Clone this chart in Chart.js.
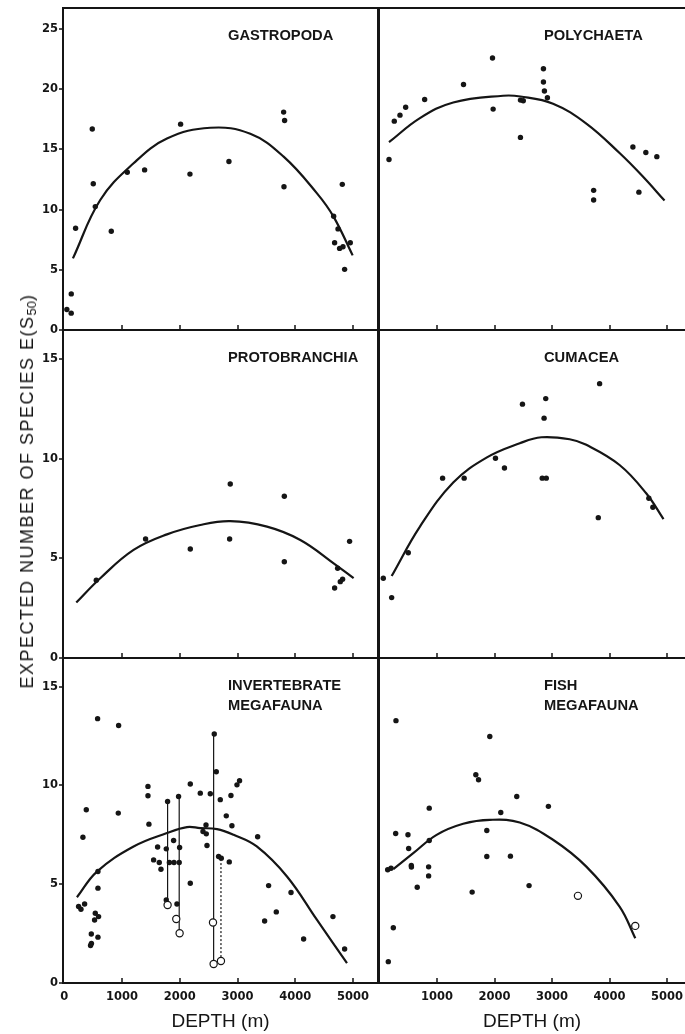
<!DOCTYPE html>
<html>
<head>
<meta charset="utf-8">
<script src="https://cdn.jsdelivr.net/npm/chart.js@4.4.1/dist/chart.umd.min.js"></script>
<style>
  html, body { margin: 0; padding: 0; background: #fff; }
  #fig { position: relative; width: 685px; height: 1034px; overflow: hidden; background: #fff; }
  #fig canvas { position: absolute; }
  .ylab {
    position: absolute; left: 28px; top: 491px;
    transform: translate(-50%, -50%) rotate(-90deg);
    white-space: nowrap; color: #151515;
    font: 18px 'Liberation Sans', Arial, sans-serif; letter-spacing: 1.5px;
  }
  .ylab sub { font-size: 13px; vertical-align: -3px; letter-spacing: 0; }
</style>
</head>
<body>
<div id="fig">
  <canvas id="gastropoda"></canvas>
  <canvas id="polychaeta"></canvas>
  <canvas id="protobranchia"></canvas>
  <canvas id="cumacea"></canvas>
  <canvas id="invertebrate"></canvas>
  <canvas id="fish"></canvas>
  <div class="ylab">EXPECTED NUMBER OF SPECIES E(S<sub>50</sub>)</div>
</div>
<script>
// tick labels
const depthTicks = [0, 1000, 2000, 3000, 4000, 5000];
const depthTicksRight = [1000, 2000, 3000, 4000, 5000];
const tickMarks = [1000, 2000, 3000, 4000, 5000];
const speciesTicksTop = [0, 5, 10, 15, 20, 25];
const speciesTicks = [0, 5, 10, 15];

// Gastropoda
const gastroDepth = [45, 120, 121, 196, 485, 502, 537, 814, 1091, 1391, 2014, 2176, 2851, 3798, 3815, 3804, 4664, 4740, 4814, 4681, 4767, 4826, 4952, 4854];
const gastroE = [1.7, 1.4, 3.0, 8.45, 16.7, 12.15, 10.25, 8.2, 13.1, 13.3, 17.1, 12.95, 14.0, 18.1, 17.4, 11.9, 9.45, 8.4, 12.1, 7.25, 6.78, 6.92, 7.25, 5.04];
const gastroFitDepth = [150, 623, 1200, 1778, 2528, 3221, 3798, 4376, 4664, 4993];
const gastroFitE = [5.95, 10.8, 13.85, 15.9, 16.8, 16.3, 14.4, 11.35, 9.4, 6.2];

// Polychaeta
const polyDepth = [165, 257, 356, 455, 785, 1461, 1965, 1976, 2451, 2451, 2500, 2851, 2851, 2868, 2920, 3724, 3724, 4407, 4511, 4632, 4823];
const polyE = [14.17, 17.35, 17.85, 18.5, 19.15, 20.4, 22.6, 18.35, 16.0, 19.1, 19.05, 21.7, 20.6, 19.85, 19.3, 11.6, 10.8, 15.2, 11.45, 14.75, 14.4];
const polyFitDepth = [165, 703, 1282, 2149, 2450, 3018, 3597, 4175, 4580, 4957];
const polyFitE = [15.6, 17.6, 18.9, 19.46, 19.4, 18.8, 17.15, 14.7, 12.75, 10.75];

// Protobranchia
const protoDepth = [554, 1408, 2182, 2874, 2863, 3810, 3810, 4681, 4733, 4779, 4819, 4940];
const protoE = [3.9, 5.97, 5.47, 8.73, 5.97, 8.11, 4.83, 3.51, 4.5, 3.83, 3.95, 5.85];
const protoFitDepth = [208, 623, 1200, 1778, 2355, 2874, 3510, 4087, 4664, 5010];
const protoFitE = [2.78, 4.0, 5.42, 6.2, 6.67, 6.86, 6.59, 5.92, 4.75, 4.0];

// Cumacea
const cumaDepth = [66, 211, 500, 1097, 1472, 2017, 2173, 2486, 2891, 2862, 2830, 2900, 3828, 3805, 4684, 4754];
const cumaE = [4.0, 3.03, 5.28, 9.02, 9.02, 10.02, 9.53, 12.73, 13.01, 12.03, 9.02, 9.02, 13.76, 7.04, 8.01, 7.56];
const cumaFitDepth = [211, 703, 1282, 1861, 2440, 2816, 3307, 3597, 4175, 4638, 4939];
const cumaFitE = [4.11, 6.59, 8.8, 10.05, 10.77, 11.07, 10.97, 10.69, 9.68, 8.26, 6.97];

// Invertebrate megafauna
const inveDepth = [577, 941, 381, 323, 935, 1449, 1449, 1466, 583, 583, 248, 289, 352, 537, 594, 525, 468, 583, 455, 470,
  1616, 1547, 1645, 1674, 1893, 1766, 1789, 1766, 1979, 1820, 1900, 1990, 1997, 1951, 2182, 2182, 2355, 2402, 2459, 2454,
  2471, 2528, 2597, 2632, 2701, 2886, 2990, 3035, 2805, 2903, 2672, 2719, 2857, 3348, 3538, 3926, 3671, 3469, 4144, 4652, 4854];
const inveE = [13.38, 13.03, 8.77, 7.38, 8.6, 9.95, 9.48, 8.04, 5.64, 4.8, 3.87, 3.73, 4.0, 3.53, 3.36, 3.19, 2.48, 2.32, 1.9, 2.0,
  6.88, 6.23, 6.1, 5.76, 7.21, 6.79, 9.19, 4.2, 9.44, 6.1, 6.1, 6.1, 6.86, 4.0, 10.07, 5.05, 9.61, 7.67, 7.55, 8.0,
  6.96, 9.58, 12.6, 10.69, 9.28, 9.49, 10.03, 10.24, 8.46, 7.96, 6.4, 6.32, 6.13, 7.4, 4.93, 4.58, 3.6, 3.14, 2.23, 3.36, 1.72];
const inveOpenDepth = [1789, 1939, 1997, 2575, 2586, 2713];
const inveOpenE = [3.95, 3.24, 2.52, 3.06, 0.96, 1.11];
const inveBarDepth = [1789, 1990, 2586, 2713];
const inveBarLow = [3.95, 2.52, 0.96, 1.11];
const inveBarHigh = [9.19, 9.44, 12.6, 6.32];
const inveBarDashed = [false, false, false, true];
const inveFitDepth = [219, 566, 1200, 1778, 2125, 2355, 2644, 2932, 3333, 3856, 4376, 4895];
const inveFitE = [4.34, 5.64, 6.91, 7.59, 7.89, 7.84, 7.79, 7.5, 6.91, 5.39, 3.19, 1.0];

// Fish megafauna
const fishDepth = [286, 281, 495, 507, 553, 555, 142, 200, 240, 153, 656, 865, 865, 854, 854, 1611, 1675, 1722, 1918, 1866, 1866, 2109, 2277, 2387, 2601, 2937];
const fishE = [13.28, 7.57, 7.5, 6.81, 5.95, 5.87, 5.73, 5.81, 2.8, 1.08, 4.85, 8.85, 7.21, 5.88, 5.42, 4.6, 10.54, 10.29, 12.48, 7.72, 6.4, 8.63, 6.42, 9.44, 4.93, 8.94];
const fishOpenDepth = [3451, 4448];
const fishOpenE = [4.41, 2.89];
const fishFitDepth = [240, 587, 993, 1455, 1918, 2439, 3017, 3597, 4175, 4448];
const fishFitE = [5.76, 6.57, 7.5, 8.06, 8.26, 8.12, 7.25, 5.89, 3.87, 2.27];

const INK = '#151515';
const FONT = "'Liberation Sans', Arial, sans-serif";
const TICK_FONT = "'DejaVu Sans', sans-serif";
Chart.defaults.font.family = FONT;
Chart.defaults.color = INK;
Chart.defaults.animation = false;

// canvas placement for each row / column of the grid
const rows = [
  { top: 0, height: 342, padTop: 8, padBottom: 12 },
  { top: 320, height: 350, padTop: 10, padBottom: 12 },
  { top: 648, height: 386, padTop: 10, padBottom: 0 }
];
const cols = [
  { left: 0, width: 382, xMin: -22, xMax: 5432, labels: depthTicks },
  { left: 375, width: 310, xMin: -9, xMax: 5313, labels: depthTicksRight }
];

const pairs = (xs, ys) => xs.map((x, i) => ({ x, y: ys[i] }));

// box around each panel, inward depth ticks, outward species ticks, panel name
const framePlugin = {
  id: 'frame',
  afterDatasetsDraw(chart, args, o) {
    const { ctx, chartArea: a, scales: { x, y } } = chart;
    ctx.save();
    ctx.strokeStyle = INK;
    ctx.lineWidth = 2;
    ctx.beginPath();
    ctx.moveTo(a.left, a.top); ctx.lineTo(a.right, a.top);
    ctx.moveTo(a.left, a.top - 1); ctx.lineTo(a.left, a.bottom + 1);
    ctx.moveTo(a.left, a.bottom); ctx.lineTo(a.right, a.bottom);
    if (o.rightEdge) { ctx.moveTo(a.right, a.top - 1); ctx.lineTo(a.right, a.bottom + 1); }
    ctx.stroke();
    ctx.lineWidth = 1.5;
    ctx.beginPath();
    tickMarks.forEach(v => {
      const px = Math.round(x.getPixelForValue(v));
      ctx.moveTo(px, a.bottom); ctx.lineTo(px, a.bottom - 5);
    });
    (o.yTicks || []).forEach(v => {
      const py = Math.round(y.getPixelForValue(v));
      ctx.moveTo(a.left, py); ctx.lineTo(a.left - 4, py);
    });
    ctx.stroke();
    ctx.fillStyle = INK;
    ctx.font = 'bold 14.7px ' + FONT;
    ctx.textBaseline = 'middle';
    o.title.forEach((t, i) => ctx.fillText(t, a.left + 165, a.top + 28 + i * 20));
    ctx.restore();
  }
};

function panel(id, row, col, p) {
  const r = rows[row], c = cols[col];
  const showX = row === 2, showY = col === 0;
  const canvas = document.getElementById(id);
  canvas.width = c.width;
  canvas.height = r.height;
  canvas.style.left = c.left + 'px';
  canvas.style.top = r.top + 'px';

  const datasets = [];
  if (p.openX) {
    datasets.push({ data: pairs(p.openX, p.openY), order: 0, pointRadius: 3.6, pointBorderWidth: 1.2,
      pointBorderColor: INK, pointBackgroundColor: '#fff' });
  }
  datasets.push({ data: pairs(p.x, p.y), order: 1, pointRadius: 2.7, pointBorderWidth: 0, pointBackgroundColor: INK });
  (p.barX || []).forEach((bx, i) => {
    datasets.push({ data: [{ x: bx, y: p.barLow[i] }, { x: bx, y: p.barHigh[i] }], order: 2, showLine: true,
      borderColor: INK, borderWidth: 1.2, borderDash: p.barDashed[i] ? [2, 2] : [], pointRadius: 0 });
  });
  datasets.push({ data: pairs(p.fitX, p.fitY), order: 3, showLine: true, tension: 0.4,
    borderColor: INK, borderWidth: 2.2, pointRadius: 0 });

  return new Chart(canvas, {
    type: 'scatter',
    data: { datasets },
    options: {
      responsive: false,
      devicePixelRatio: 1,
      events: [],
      layout: {
        autoPadding: false,
        padding: { left: col === 1 ? 4 : 0, right: col === 0 ? 4 : 0, top: r.padTop, bottom: r.padBottom }
      },
      plugins: {
        legend: { display: false },
        tooltip: { enabled: false },
        frame: { title: p.title, rightEdge: col === 0, yTicks: showY ? p.yTicks : null }
      },
      scales: {
        x: {
          type: 'linear', min: c.xMin, max: c.xMax, display: showX,
          afterFit: s => {
            s.height = showX ? 51 : 0;
            s.paddingLeft = 0; s.paddingRight = 0;
          },
          afterBuildTicks: s => { s.ticks = c.labels.map(v => ({ value: v })); },
          grid: { display: false, drawTicks: false },
          border: { display: false },
          ticks: { padding: 7, autoSkip: false, maxRotation: 0, font: { family: TICK_FONT, size: 11.5, weight: 'bold' }, callback: v => String(v) },
          title: { display: true, text: 'DEPTH (m)', font: { size: 19 }, padding: { top: 0, bottom: 1 } }
        },
        y: {
          type: 'linear', min: 0, max: p.yMax, display: showY,
          afterFit: s => {
            s.width = showY ? 63 : 0;
            s.paddingTop = 0; s.paddingBottom = 0;
          },
          afterBuildTicks: s => { s.ticks = p.yTicks.map(v => ({ value: v })); },
          grid: { display: false, drawTicks: false },
          border: { display: false },
          ticks: { padding: 5, autoSkip: false, font: { family: TICK_FONT, size: 11.5, weight: 'bold' }, callback: v => String(v) }
        }
      }
    },
    plugins: [framePlugin]
  });
}

panel('gastropoda', 0, 0, { title: ['GASTROPODA'], x: gastroDepth, y: gastroE, fitX: gastroFitDepth, fitY: gastroFitE, yMax: 26.75, yTicks: speciesTicksTop });
panel('polychaeta', 0, 1, { title: ['POLYCHAETA'], x: polyDepth, y: polyE, fitX: polyFitDepth, fitY: polyFitE, yMax: 26.75, yTicks: speciesTicksTop });
panel('protobranchia', 1, 0, { title: ['PROTOBRANCHIA'], x: protoDepth, y: protoE, fitX: protoFitDepth, fitY: protoFitE, yMax: 16.45, yTicks: speciesTicks });
panel('cumacea', 1, 1, { title: ['CUMACEA'], x: cumaDepth, y: cumaE, fitX: cumaFitDepth, fitY: cumaFitE, yMax: 16.45, yTicks: speciesTicks });
panel('invertebrate', 2, 0, {
  title: ['INVERTEBRATE', 'MEGAFAUNA'], x: inveDepth, y: inveE, openX: inveOpenDepth, openY: inveOpenE,
  barX: inveBarDepth, barLow: inveBarLow, barHigh: inveBarHigh, barDashed: inveBarDashed,
  fitX: inveFitDepth, fitY: inveFitE, yMax: 16.45, yTicks: speciesTicks
});
panel('fish', 2, 1, {
  title: ['FISH', 'MEGAFAUNA'], x: fishDepth, y: fishE, openX: fishOpenDepth, openY: fishOpenE,
  fitX: fishFitDepth, fitY: fishFitE, yMax: 16.45, yTicks: speciesTicks
});
</script>
</body>
</html>
